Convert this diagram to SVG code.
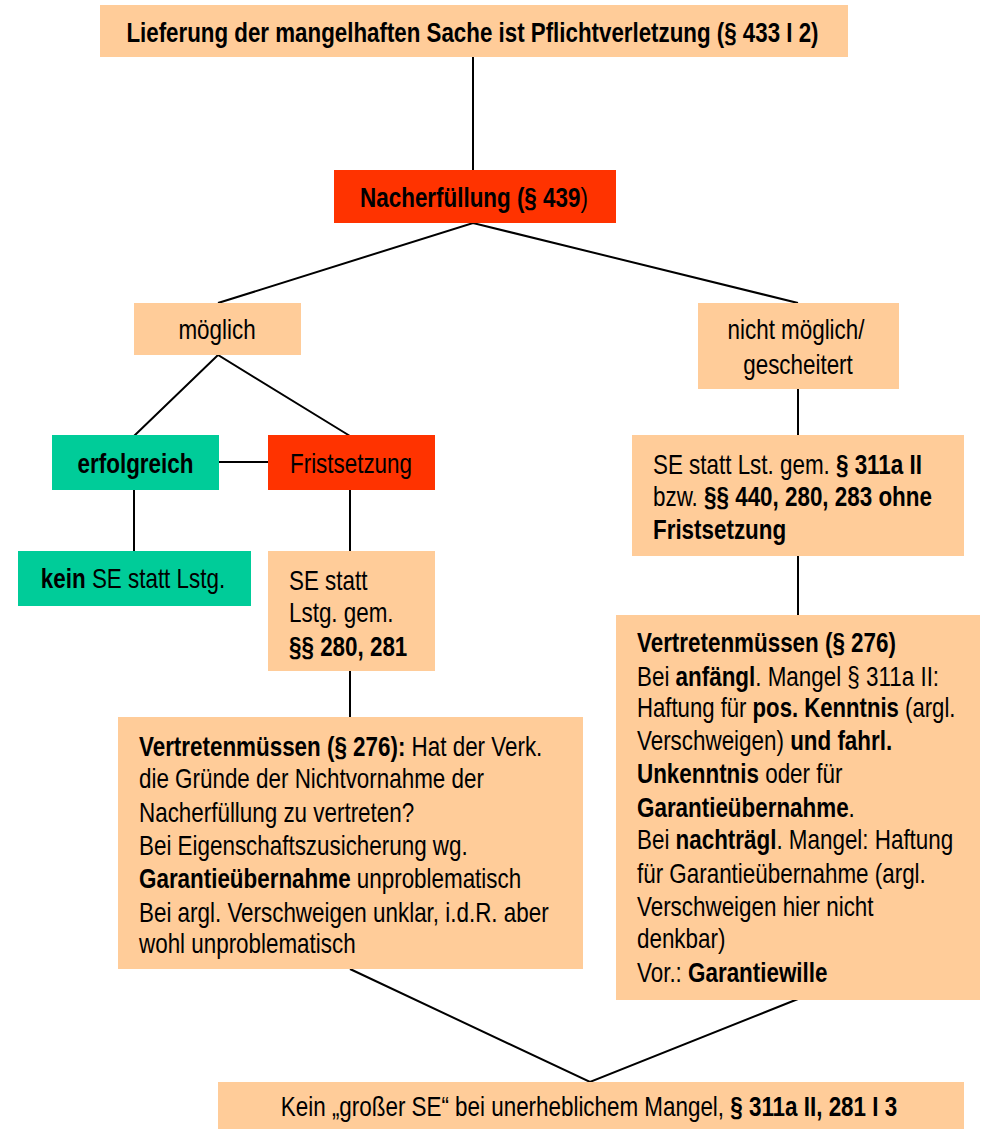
<svg xmlns="http://www.w3.org/2000/svg" width="982" height="1129" viewBox="0 0 982 1129">
<style>
text{font-family:"Liberation Sans",Arial,sans-serif;font-size:27px;fill:#000}
.b{font-weight:bold}
.c{text-anchor:middle}
.peach{fill:#FFCC99}
.red{fill:#FF3300}
.green{fill:#00CC99}
.conn line,.conn polyline{stroke:#000;stroke-width:2;fill:none}
</style>
<rect width="982" height="1129" fill="#fff"/>
<g class="conn">
<line x1="473" y1="57" x2="473" y2="171"/>
<polyline points="218,303 473,223 798,303"/>
<polyline points="134,436 218,355 350,436"/>
<line x1="218" y1="462" x2="268" y2="462"/>
<line x1="134" y1="489" x2="134" y2="551"/>
<line x1="350" y1="489" x2="350" y2="551"/>
<line x1="350" y1="671" x2="350" y2="717"/>
<line x1="798" y1="389" x2="798" y2="435"/>
<line x1="798" y1="555" x2="798" y2="615"/>
<polyline points="350,969 590,1082 798,999"/>
</g>
<g id="n-lieferung"><rect class="peach" x="100" y="5" width="748" height="52"/><text class="b c" transform="translate(472.5,42) scale(0.827,1)" font-size="25">Lieferung der mangelhaften Sache ist Pflichtverletzung (§ 433 I 2)</text></g>
<g id="n-nacherfuellung"><rect class="red" x="334" y="170" width="282" height="53"/><text class="c" transform="translate(474,207) scale(0.83,1)"><tspan class="b">Nacherfüllung (§ 439</tspan>)</text></g>
<g id="n-moeglich"><rect class="peach" x="134" y="303" width="167" height="52"/><text class="c" transform="translate(217,339) scale(0.83,1)">möglich</text></g>
<g id="n-nichtmoeglich"><rect class="peach" x="698" y="303" width="201" height="86"/><text class="c" transform="translate(796,339) scale(0.83,1)">nicht möglich/</text><text class="c" transform="translate(798,374) scale(0.83,1)">gescheitert</text></g>
<g id="n-erfolgreich"><rect class="green" x="52" y="435" width="167" height="55"/><text class="b c" transform="translate(135.5,473) scale(0.83,1)">erfolgreich</text></g>
<g id="n-fristsetzung"><rect class="red" x="268" y="435" width="167" height="55"/><text class="c" transform="translate(351,473) scale(0.83,1)">Fristsetzung</text></g>
<g id="n-kein"><rect class="green" x="18" y="551" width="233" height="55"/><text class="c" transform="translate(133,588) scale(0.83,1)"><tspan class="b">kein</tspan> SE statt Lstg.</text></g>
<g id="n-se281"><rect class="peach" x="268" y="551" width="167" height="120"/>
<text transform="translate(289,590) scale(0.83,1)">SE statt</text>
<text transform="translate(289,622) scale(0.83,1)">Lstg. gem.</text>
<text class="b" transform="translate(289,656) scale(0.83,1)">§§ 280, 281</text></g>
<g id="n-vertreten-links"><rect class="peach" x="118" y="717" width="465" height="252"/>
<text transform="translate(139,756) scale(0.83,1)"><tspan class="b">Vertretenmüssen (§ 276):</tspan> Hat der Verk.</text>
<text transform="translate(139,788) scale(0.83,1)">die Gründe der Nichtvornahme der</text>
<text transform="translate(139,822) scale(0.83,1)">Nacherfüllung zu vertreten?</text>
<text transform="translate(139,855) scale(0.83,1)">Bei Eigenschaftszusicherung wg.</text>
<text transform="translate(139,888) scale(0.83,1)"><tspan class="b">Garantieübernahme</tspan> unproblematisch</text>
<text transform="translate(139,922) scale(0.83,1)">Bei argl. Verschweigen unklar, i.d.R. aber</text>
<text transform="translate(139,953) scale(0.83,1)">wohl unproblematisch</text></g>
<g id="n-se311"><rect class="peach" x="632" y="435" width="332" height="121"/>
<text transform="translate(653,474) scale(0.83,1)">SE statt Lst. gem. <tspan class="b">§ 311a II</tspan></text>
<text transform="translate(653,506) scale(0.83,1)">bzw. <tspan class="b">§§ 440, 280, 283 ohne</tspan></text>
<text class="b" transform="translate(653,539) scale(0.83,1)">Fristsetzung</text></g>
<g id="n-vertreten-rechts"><rect class="peach" x="616" y="615" width="364" height="385"/>
<text class="b" transform="translate(637,652) scale(0.83,1)">Vertretenmüssen (§ 276)</text>
<text transform="translate(637,686) scale(0.83,1)">Bei <tspan class="b">anfängl</tspan>. Mangel § 311a II:</text>
<text transform="translate(637,717) scale(0.82,1)">Haftung für <tspan class="b">pos. Kenntnis</tspan> (argl.</text>
<text transform="translate(637,750) scale(0.83,1)">Verschweigen) <tspan class="b">und fahrl.</tspan></text>
<text transform="translate(637,783) scale(0.83,1)"><tspan class="b">Unkenntnis</tspan> oder für</text>
<text transform="translate(637,817) scale(0.83,1)"><tspan class="b">Garantieübernahme</tspan>.</text>
<text transform="translate(637,849) scale(0.83,1)">Bei <tspan class="b">nachträgl</tspan>. Mangel: Haftung</text>
<text transform="translate(637,883) scale(0.83,1)">für Garantieübernahme (argl.</text>
<text transform="translate(637,916) scale(0.83,1)">Verschweigen hier nicht</text>
<text transform="translate(637,948) scale(0.83,1)">denkbar)</text>
<text transform="translate(637,982) scale(0.83,1)">Vor.: <tspan class="b">Garantiewille</tspan></text></g>
<g id="n-kein-grosser"><rect class="peach" x="218" y="1082" width="746" height="47"/><text class="c" transform="translate(589,1116) scale(0.83,1)">Kein „großer SE“ bei unerheblichem Mangel, <tspan class="b">§ 311a II, 281 I 3</tspan></text></g>
</svg>
